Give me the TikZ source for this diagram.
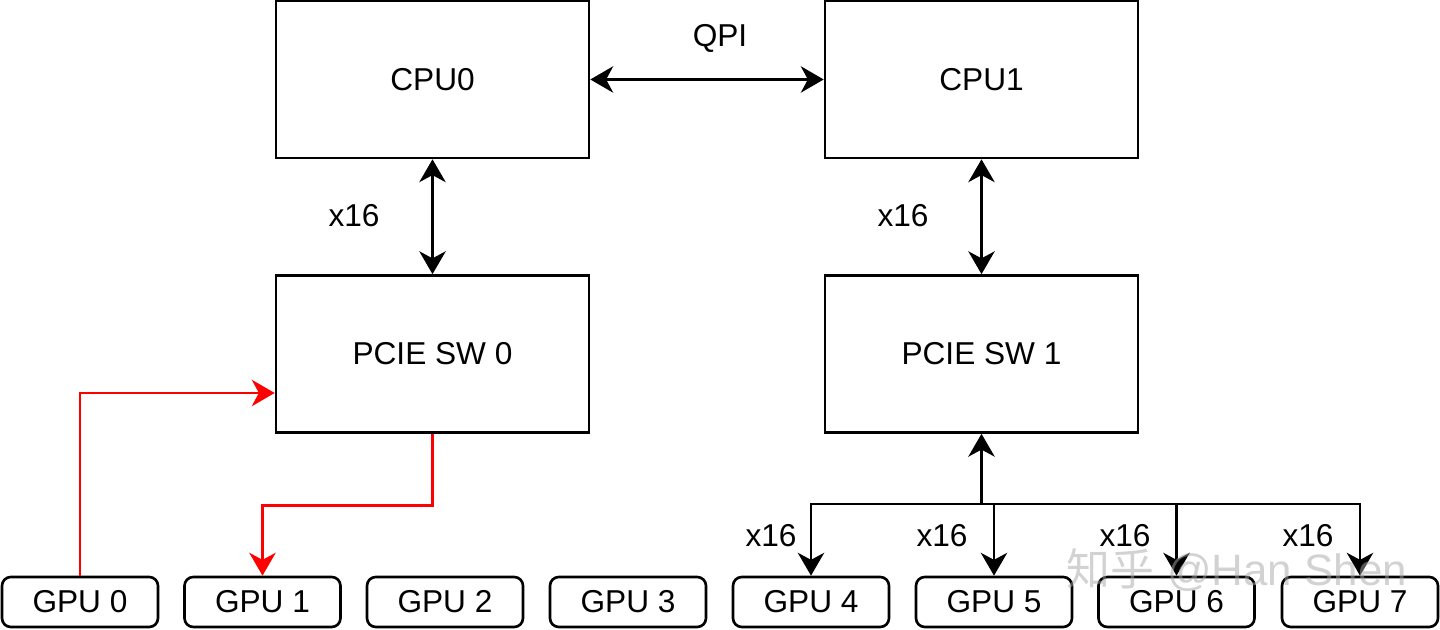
\documentclass[tikz,border=0pt]{standalone}
\usepackage{fontspec}
\setmainfont{Liberation Sans}
\newfontfamily\cjk{Noto Sans CJK SC}
\usetikzlibrary{arrows.meta}

\begin{document}
\begin{tikzpicture}[every node/.style={font=\fontsize{9}{11}\selectfont},
	chip/.style={draw, line width=0.75pt, inner sep=0pt, minimum width=3.13cm, minimum height=1.57cm},
	gpubox/.style={draw, line width=0.75pt, rounded corners=2.5pt, inner sep=0pt, minimum width=1.56cm, minimum height=0.5cm},
	link/.style={line width=0.75pt, -{Stealth[length=6.5pt, width=7.5pt, inset=2pt]}},
	biglink/.style={link, {Stealth[length=6.5pt, width=7.5pt, inset=2pt]}-{Stealth[length=6.5pt, width=7.5pt, inset=2pt]}}]
	\useasboundingbox (0,0) rectangle (14.4,6.3);
	\node[chip] (cpu0) at (4.325,5.505) {CPU0};
	\node[chip] (cpu1) at (9.815,5.505) {CPU1};
	\node[chip] (sw0) at (4.325,2.76) {PCIE SW 0};
	\node[chip] (sw1) at (9.815,2.76) {PCIE SW 1};
	\node[gpubox] (gpu0) at (0.80,0.28) {GPU 0};
	\node[gpubox] (gpu1) at (2.625,0.28) {GPU 1};
	\node[gpubox] (gpu2) at (4.45,0.28) {GPU 2};
	\node[gpubox] (gpu3) at (6.28,0.28) {GPU 3};
	\node[gpubox] (gpu4) at (8.11,0.28) {GPU 4};
	\node[gpubox] (gpu5) at (9.94,0.28) {GPU 5};
	\node[gpubox] (gpu6) at (11.765,0.28) {GPU 6};
	\node[gpubox] (gpu7) at (13.60,0.28) {GPU 7};
	\draw[biglink] (cpu0) -- (cpu1);
	\node (qpi) at (7.20,5.92) {QPI};
	\draw[biglink] (cpu0) -- (sw0);
	\node (lane0) at (3.54,4.14) {x16};
	\draw[biglink] (cpu1) -- (sw1);
	\node (lane1) at (9.03,4.14) {x16};
	\draw[link, red] (gpu0.north) |- ([yshift=-0.39cm]sw0.west);
	\draw[link, red] (sw0.south) -- ++(0,-0.715) -| (gpu1.north);
	\coordinate (hub) at (9.815,1.26);
	\draw[link] (hub) -- (sw1.south);
	\draw[link] (hub) -| (gpu4.north);
	\draw[link] (hub) -| (gpu5.north);
	\draw[link] (hub) -| (gpu6.north);
	\draw[link] (hub) -| (gpu7.north);
	\node (lane4) at (7.71,0.94) {x16};
	\node (lane5) at (9.42,0.94) {x16};
	\node (lane6) at (11.25,0.94) {x16};
	\node (lane7) at (13.08,0.94) {x16};
	\node[text=gray!70, opacity=0.5, font=\fontsize{12.5}{14}\selectfont] (mark) at (12.37,0.60) {{\cjk 知乎} @Han Shen};
\end{tikzpicture}
\end{document}
